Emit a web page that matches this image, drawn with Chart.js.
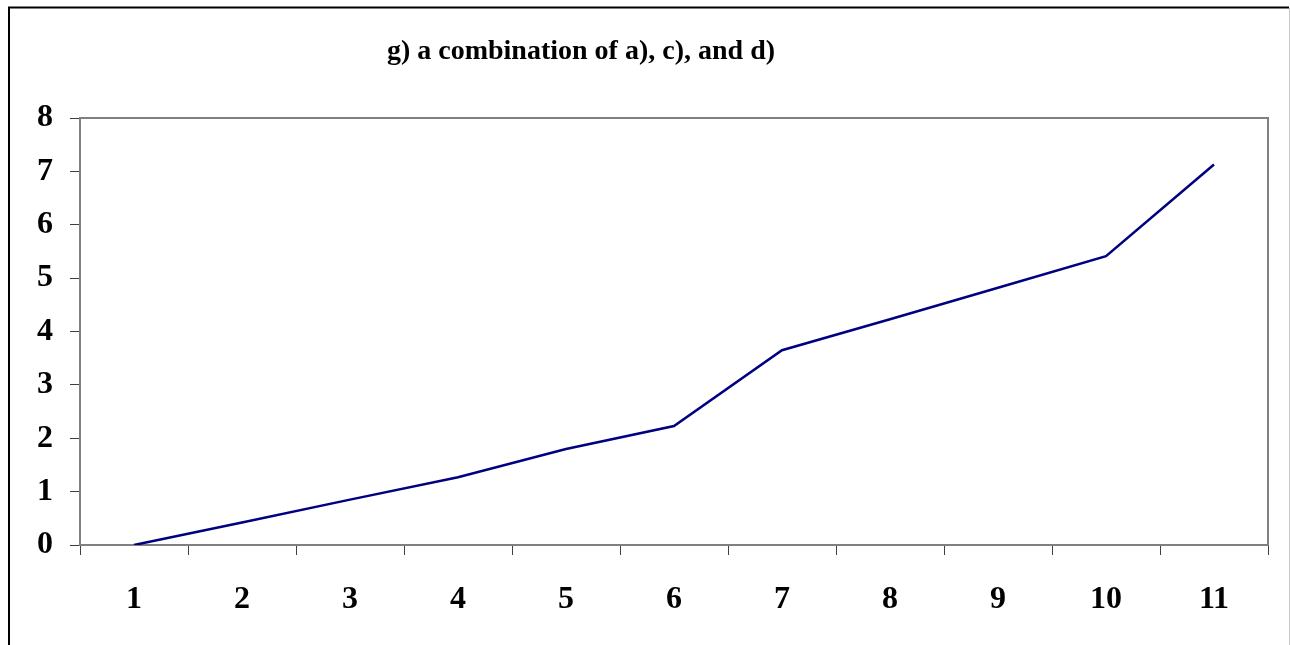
<!DOCTYPE html>
<html lang="en">
<head>
    <meta charset="UTF-8">
    <title>g) a combination of a), c), and d)</title>
    <script src="https://cdn.jsdelivr.net/npm/chart.js@4.4.0/dist/chart.umd.min.js"></script>
    <style>
        body {
            margin: 0;
            background: white;
        }
        .wrap {
            position: relative;
            width: 1290px;
            height: 645px;
        }
    </style>
</head>
<body>
    <div class="wrap">
        <canvas id="chart" width="1290" height="645"></canvas>
    </div>

    <script>
        const chartTitle = 'g) a combination of a), c), and d)';
        const categories = ['1', '2', '3', '4', '5', '6', '7', '8', '9', '10', '11'];
        const values = [0, 0.42, 0.85, 1.27, 1.80, 2.23, 3.65, 4.23, 4.82, 5.41, 7.13];
        const yTicks = [0, 1, 2, 3, 4, 5, 6, 7, 8];

        const serif = '"Liberation Serif", "Times New Roman", serif';

        // outer chart frame, grey plot-area box and the (off-centre) title
        const frames = {
            id: 'frames',
            afterDraw(chart) {
                const ctx = chart.ctx;
                const a = chart.chartArea;
                ctx.save();
                ctx.strokeStyle = '#000';
                ctx.lineWidth = 2;
                ctx.beginPath();
                ctx.moveTo(9, 650);
                ctx.lineTo(9, 7.5);
                ctx.lineTo(1289, 7.5);
                ctx.stroke();
                ctx.strokeStyle = '#c8c8c8';
                ctx.lineWidth = 1;
                ctx.beginPath();
                ctx.moveTo(1289.5, 8);
                ctx.lineTo(1289.5, 650);
                ctx.stroke();
                ctx.strokeStyle = '#808080';
                ctx.lineWidth = 2;
                ctx.beginPath();
                ctx.moveTo(a.left, a.top);
                ctx.lineTo(a.right, a.top);
                ctx.lineTo(a.right, a.bottom);
                ctx.stroke();

                ctx.fillStyle = '#000';
                ctx.font = 'bold 28px ' + serif;
                ctx.textAlign = 'center';
                ctx.textBaseline = 'middle';
                ctx.fillText(chartTitle, 581, 52);
                ctx.restore();
            }
        };

        new Chart(document.getElementById('chart'), {
            type: 'line',
            data: {
                labels: categories,
                datasets: [{
                    data: values,
                    borderColor: '#000080',
                    borderWidth: 2.5,
                    pointRadius: 0,
                    tension: 0,
                    fill: false
                }]
            },
            options: {
                responsive: false,
                animation: false,
                layout: {
                    padding: { top: 118, left: 8, right: 22, bottom: 0 }
                },
                plugins: {
                    legend: { display: false },
                    tooltip: { enabled: false },
                    title: { display: false }
                },
                scales: {
                    x: {
                        offset: true,
                        grid: {
                            offset: true,
                            drawOnChartArea: false,
                            color: '#404040',
                            tickLength: 10
                        },
                        border: { color: '#808080', width: 2 },
                        ticks: {
                            color: '#000',
                            padding: 26,
                            maxRotation: 0,
                            font: { family: serif, size: 32, weight: 'bold' }
                        },
                        afterFit(scale) { scale.height = 100; }
                    },
                    y: {
                        min: 0,
                        max: 8,
                        afterBuildTicks(scale) {
                            scale.ticks = yTicks.map(v => ({ value: v }));
                        },
                        grid: {
                            drawOnChartArea: false,
                            color: '#404040',
                            tickLength: 10
                        },
                        border: { color: '#808080', width: 2 },
                        ticks: {
                            color: '#000',
                            padding: 17,
                            font: { family: serif, size: 32, weight: 'bold' }
                        },
                        afterFit(scale) { scale.width = 72; }
                    }
                }
            },
            plugins: [frames]
        });
    </script>
</body>
</html>
